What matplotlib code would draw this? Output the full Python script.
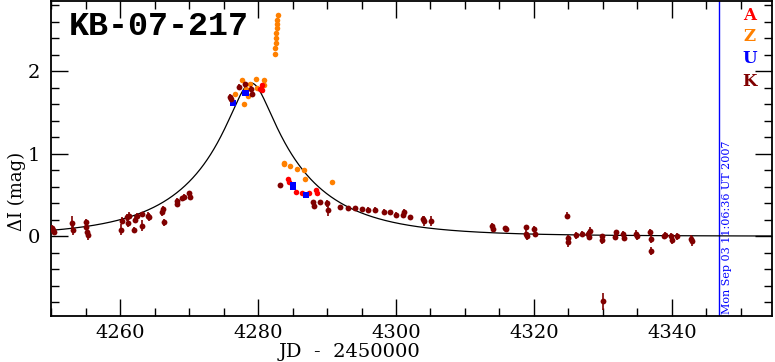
import numpy as np
import matplotlib
matplotlib.use("Agg")
import matplotlib.pyplot as plt
from matplotlib.ticker import MultipleLocator

# K (dark red) photometry: JD-2450000, delta I, error
k_t = [4250.1, 4250.2, 4250.4, 4253.0, 4253.2, 4255.0, 4255.1, 4255.2, 4255.3,
       4260.2, 4260.1, 4261.0, 4261.1, 4261.3, 4262.0, 4262.1, 4262.4, 4263.1,
       4263.2, 4264.0, 4264.2, 4266.2, 4266.1, 4266.3, 4268.2, 4268.3, 4269.0,
       4269.3, 4270.0, 4270.1,
       4276.0, 4276.1, 4277.2, 4278.1, 4279.0, 4279.1,
       4283.2, 4288.0, 4288.1, 4289.0, 4290.0, 4290.1, 4291.9, 4293.1, 4294.1,
       4295.0, 4296.0, 4297.0, 4298.2, 4299.1, 4300.0, 4301.0, 4301.1, 4302.0,
       4303.9, 4304.0, 4305.1,
       4313.9, 4314.0, 4315.8, 4315.9, 4318.8, 4318.9, 4319.0, 4320.0, 4320.1,
       4324.8, 4324.9, 4325.0, 4326.1, 4326.9, 4327.9, 4328.0, 4328.1, 4329.8,
       4329.9, 4330.0, 4331.7, 4331.9, 4332.9, 4333.0, 4334.8, 4334.9, 4336.8,
       4336.9, 4337.0, 4338.9, 4339.0, 4339.9, 4340.0, 4340.8, 4342.8, 4342.9]
k_m = [0.10, 0.08, 0.05, 0.16, 0.07, 0.11, 0.17, 0.05, 0.01,
       0.19, 0.08, 0.23, 0.16, 0.25, 0.08, 0.20, 0.24, 0.13,
       0.27, 0.25, 0.23, 0.33, 0.29, 0.17, 0.39, 0.43, 0.46,
       0.48, 0.52, 0.48,
       1.69, 1.66, 1.81, 1.84, 1.79, 1.73,
       0.62, 0.41, 0.37, 0.41, 0.40, 0.32, 0.35, 0.34, 0.34,
       0.33, 0.32, 0.32, 0.30, 0.29, 0.26, 0.26, 0.29, 0.23,
       0.21, 0.18, 0.18,
       0.13, 0.09, 0.10, 0.09, 0.11, 0.03, 0.00, 0.09, 0.03,
       0.25, -0.02, -0.07, 0.01, 0.03, 0.03, -0.01, 0.06, 0.00,
       -0.05, -0.79, -0.01, 0.05, 0.03, -0.02, 0.03, 0.00, 0.05,
       -0.03, -0.18, 0.00, 0.02, 0.00, -0.05, 0.00, -0.03, -0.06]
k_e = [0.04, 0.03, 0.03, 0.08, 0.05, 0.04, 0.04, 0.05, 0.06,
       0.04, 0.07, 0.04, 0.05, 0.04, 0.03, 0.04, 0.04, 0.07,
       0.03, 0.04, 0.05, 0.04, 0.04, 0.04, 0.03, 0.03, 0.03,
       0.03, 0.03, 0.03,
       0.03, 0.03, 0.03, 0.03, 0.03, 0.03,
       0.02, 0.03, 0.04, 0.03, 0.04, 0.08, 0.03, 0.03, 0.03,
       0.03, 0.03, 0.03, 0.03, 0.03, 0.03, 0.03, 0.04, 0.03,
       0.04, 0.06, 0.06,
       0.03, 0.03, 0.03, 0.03, 0.03, 0.04, 0.04, 0.04, 0.04,
       0.04, 0.04, 0.06, 0.04, 0.03, 0.03, 0.04, 0.05, 0.03,
       0.04, 0.10, 0.04, 0.03, 0.03, 0.04, 0.05, 0.04, 0.04,
       0.05, 0.05, 0.03, 0.03, 0.04, 0.04, 0.04, 0.04, 0.06]

# A (red)
a_t = [4280.3, 4280.5, 4280.6, 4284.4, 4284.5, 4285.5, 4286.3, 4287.4, 4288.4, 4288.5]
a_m = [1.79, 1.83, 1.77, 0.69, 0.66, 0.54, 0.52, 0.52, 0.56, 0.53]

# Z (orange)
z_t = [4276.7, 4277.6, 4277.9, 4278.3, 4278.6, 4278.8, 4279.7, 4279.9, 4280.8, 4280.8,
       4282.45, 4282.5, 4282.55, 4282.6, 4282.65, 4282.7, 4282.75, 4282.8, 4282.9,
       4283.7, 4283.8, 4284.6, 4285.6, 4286.7, 4286.8, 4290.7]
z_m = [1.73, 1.89, 1.60, 1.78, 1.70, 1.85, 1.91, 1.80, 1.89, 1.83,
       2.21, 2.28, 2.34, 2.40, 2.46, 2.52, 2.57, 2.62, 2.68,
       0.89, 0.87, 0.85, 0.82, 0.80, 0.70, 0.66]

# U (blue)
u_t = [4276.3, 4278.1, 4278.3, 4285.0, 4285.1, 4287.0]
u_m = [1.62, 1.74, 1.74, 0.60, 0.62, 0.50]

# point-lens model parameters
t0, tE, u0 = 4279.0, 15.2, 0.183

K_COL = "#800000"
A_COL = "#ff0000"
Z_COL = "#ff8000"
U_COL = "#0000ff"

fig = plt.figure(figsize=(7.75, 3.62), dpi=100)
ax = fig.add_axes([0.066, 0.127, 0.930, 0.871])

tt = np.linspace(4250, 4355, 1500)
uu = np.sqrt(u0**2 + ((tt - t0) / tE)**2)
amp = (uu**2 + 2) / (uu * np.sqrt(uu**2 + 4))
ax.plot(tt, 2.5 * np.log10(amp), color="black", lw=0.9, zorder=2)

ax.plot(z_t, z_m, "o", color=Z_COL, ms=4.0, mew=0, zorder=3)
ax.plot(a_t, a_m, "o", color=A_COL, ms=4.0, mew=0, zorder=3)
ax.plot(u_t, u_m, "s", color=U_COL, ms=3.8, mew=0, zorder=3)
ax.errorbar(k_t, k_m, yerr=k_e, fmt="o", color=K_COL, ms=4.2, mew=0,
            elinewidth=1.2, capsize=1.8, capthick=1.2, zorder=4)

ax.axvline(4346.9, color=U_COL, lw=1.0, zorder=1)
ax.text(4347.3, -0.94, "Mon Sep 03 11:06:36 UT 2007", rotation=90,
        color=U_COL, fontsize=8, family="DejaVu Serif", ha="left", va="bottom")

for lab, col, y in [("A", A_COL, 2.68), ("Z", Z_COL, 2.42), ("U", U_COL, 2.15), ("K", K_COL, 1.88)]:
    ax.text(4351.3, y, lab, color=col, fontsize=12, family="DejaVu Serif",
            weight="bold", ha="center", va="center")

ax.text(4252.5, 2.54, "KB-07-217", fontsize=24, family="Liberation Mono",
        weight="bold", ha="left", va="center")

ax.set_xlim(4250, 4354.5)
ax.set_ylim(-0.967, 2.855)
ax.xaxis.set_major_locator(MultipleLocator(20))
ax.xaxis.set_minor_locator(MultipleLocator(5))
ax.yaxis.set_major_locator(MultipleLocator(1))
ax.yaxis.set_minor_locator(MultipleLocator(0.2))
ax.tick_params(which="both", direction="in", top=True, right=True, width=1.0)
ax.tick_params(which="major", length=12, labelsize=14)
ax.tick_params(axis="x", which="major", pad=6)
ax.tick_params(axis="y", which="major", pad=8)
ax.tick_params(which="minor", length=6)
for lbl in ax.get_xticklabels() + ax.get_yticklabels():
    lbl.set_family("DejaVu Serif")
for sp in ax.spines.values():
    sp.set_linewidth(1.3)

fig.text(0.451, 0.003, "JD  -  2450000", fontsize=14, family="DejaVu Serif",
         ha="center", va="bottom")
fig.text(0.022, 0.47, "ΔI (mag)", fontsize=13, family="DejaVu Serif",
         rotation=90, ha="center", va="center")

fig.savefig("out.png", dpi=100)
